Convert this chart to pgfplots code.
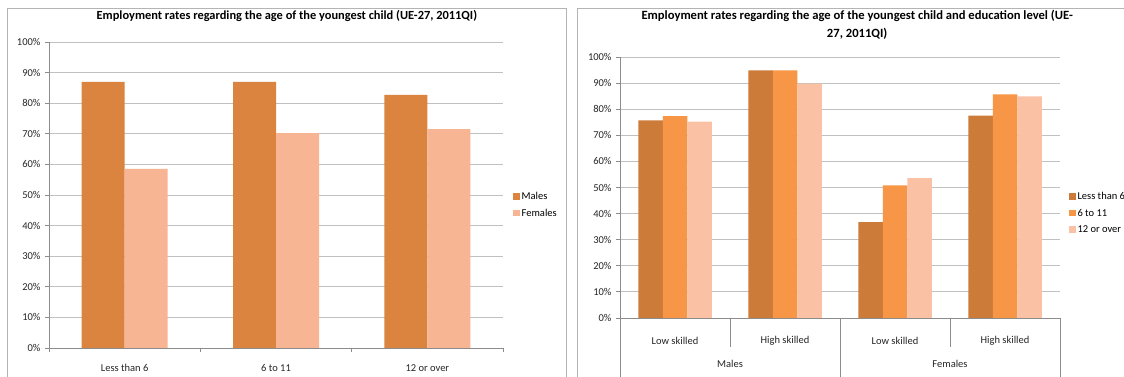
\documentclass[border=0pt]{standalone}
\usepackage{pgfplots}
\pgfplotsset{compat=1.18}
\usepackage{fontspec}
\setmainfont{Carlito}
\definecolor{maleL}{HTML}{DB843F}
\definecolor{femL}{HTML}{F8B593}
\definecolor{cA}{HTML}{CD7B39}
\definecolor{cB}{HTML}{F79646}
\definecolor{cC}{HTML}{FAC1A5}
\definecolor{gridc}{HTML}{C0C0C0}
\definecolor{axc}{HTML}{8C8C8C}
\definecolor{framec}{HTML}{B4B4B4}

\pgfplotsset{
  mystyle/.style={
    scale only axis, ybar=0pt, ymin=0, ymax=100, ytick={0,10,...,100},
    yticklabel={\pgfmathprintnumber{\tick}\%},
    /pgf/number format/assume math mode=true,
    ymajorgrids, grid style={gridc, line width=0.8pt},
    axis x line*=bottom, axis y line*=left,
    axis line style={-, draw=axc, line width=0.8pt},
    ytick style={draw=axc, line width=0.8pt},
    xtick style={draw=none},
    tick align=outside, major tick length=4pt,
    tick label style={font=\fontsize{10.5}{12}\selectfont, text=black!85},
    yticklabel style={xshift=-1pt},
    xticklabel style={anchor=center},
    clip=false,
    legend style={draw=none, fill=none, inner sep=0pt, font=\fontsize{10.5}{12}\selectfont,
      legend cell align=left, row sep=4pt},
    every axis plot post/.append style={draw=none,
      legend image code/.code={\fill[##1] (0pt,-3pt) rectangle (6.5pt,3.5pt);}},
  }
}

\begin{document}
\begin{tikzpicture}
\clip (0,0) rectangle (1124pt,377pt);
\path[fill=white] (0,0) rectangle (1124pt,377pt);
% panel frames
\draw[framec, line width=0.9pt] (7pt,-5pt) rectangle (566pt,369pt);
\draw[framec, line width=0.9pt] (577pt,-5pt) rectangle (1135pt,369pt);

% ---------------- Left chart ----------------
\begin{axis}[mystyle,
  width=454pt, height=306pt, at={(49pt,29pt)}, anchor=south west,
  xmin=-0.5, xmax=2.5, bar width=43pt,
  xtick={0,1,2}, xticklabels={Less than 6, 6 to 11, 12 or over},
  xticklabel style={yshift=-16pt},
  title={Employment rates regarding the age of the youngest child (UE-27, 2011QI)},
  title style={font=\bfseries\fontsize{12.4}{14}\selectfont, at={(axis description cs:0.524,1)}, anchor=center, yshift=20pt},
  legend style={at={(1.022,0.467)}, anchor=west},
]
\addplot[fill=maleL] coordinates {(0,87.0) (1,87.0) (2,82.7)};
\addplot[fill=femL] coordinates {(0,58.5) (1,70.2) (2,71.5)};
\legend{Males, Females}
\pgfplotsinvokeforeach{-0.5,0.5,1.5,2.5}{
  \draw[axc, line width=0.8pt] (axis cs:#1,0) -- ([yshift=-4pt]axis cs:#1,0);
}
\end{axis}

% ---------------- Right chart ----------------
\begin{axis}[mystyle,
  width=440pt, height=261pt, at={(620pt,59pt)}, anchor=south west,
  xmin=-0.5, xmax=3.5, bar width=24.5pt,
  xtick={0,1,2,3}, xticklabels={Low skilled, High skilled, Low skilled, High skilled},
  xticklabel style={yshift=-19pt},
  title={Employment rates regarding the age of the youngest child and education level (UE-\\27, 2011QI)},
  title style={font=\bfseries\fontsize{12.6}{18}\selectfont, align=center, at={(axis description cs:0.539,1)}, anchor=center, yshift=26pt},
  legend style={at={(1.02,0.402)}, anchor=west},
]
\addplot[fill=cA] coordinates {(0,75.7) (1,94.9) (2,36.7) (3,77.5)};
\addplot[fill=cB] coordinates {(0,77.3) (1,94.9) (2,50.8) (3,85.7)};
\addplot[fill=cC] coordinates {(0,75.2) (1,89.8) (2,53.6) (3,84.9)};
\legend{Less than 6, 6 to 11, 12 or over}
\pgfplotsinvokeforeach{-0.5,1.5,3.5}{
  \draw[axc, line width=0.8pt] (axis cs:#1,0) -- ([yshift=-70pt]axis cs:#1,0);
}
\pgfplotsinvokeforeach{0.5,2.5}{
  \draw[axc, line width=0.8pt] (axis cs:#1,0) -- ([yshift=-29pt]axis cs:#1,0);
}
\node[font=\fontsize{10.5}{12}\selectfont, text=black!85] at ([yshift=-46pt]axis cs:0.5,0) {Males};
\node[font=\fontsize{10.5}{12}\selectfont, text=black!85] at ([yshift=-46pt]axis cs:2.5,0) {Females};
\end{axis}
\end{tikzpicture}
\end{document}
